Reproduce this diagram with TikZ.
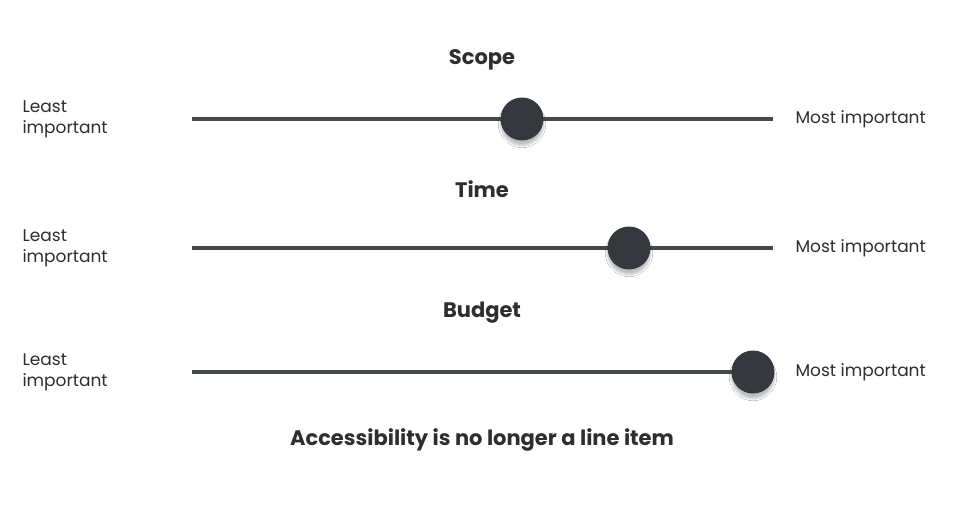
\documentclass[tikz,border=0pt]{standalone}
\usepackage{fontspec}
\setmainfont{Poppins}
\usetikzlibrary{shadows.blur}
\definecolor{track}{HTML}{45484D}
\definecolor{knob}{HTML}{35383C}
\definecolor{txt}{HTML}{2E2E2E}
\tikzset{
  title/.style={font=\fontsize{21}{24}\selectfont\bfseries, text=txt},
  side/.style={font=\fontsize{17}{21}\selectfont, text=txt, align=left, anchor=west},
  trackline/.style={draw=track, line width=4pt},
  knobc/.style={circle, fill=knob, minimum size=43pt, inner sep=0pt, blur shadow={shadow xshift=0pt, shadow yshift=-5pt, shadow blur steps=8, shadow opacity=25}}
}
\begin{document}
\begin{tikzpicture}[x=1pt,y=-1pt]
\useasboundingbox[fill=white] (0,0) rectangle (960,524);
\foreach \n/\t/\y/\k in {a/Scope/119/522, b/Time/248/629, c/Budget/372/753}{
  \node[title] (t\n) at (482,\y-59) {\t};
  \coordinate (l\n) at (192,\y);
  \coordinate (r\n) at (773,\y);
  \draw[trackline] (l\n) -- (r\n);
  \node[knobc] (k\n) at (\k,\y) {};
  \node[side] (least\n) at (19,\y) {Least\\important};
  \node[side] (most\n) at (792,\y) {Most important};
}
\node[title] (bottom) at (482,440) {Accessibility is no longer a line item};
\end{tikzpicture}
\end{document}
